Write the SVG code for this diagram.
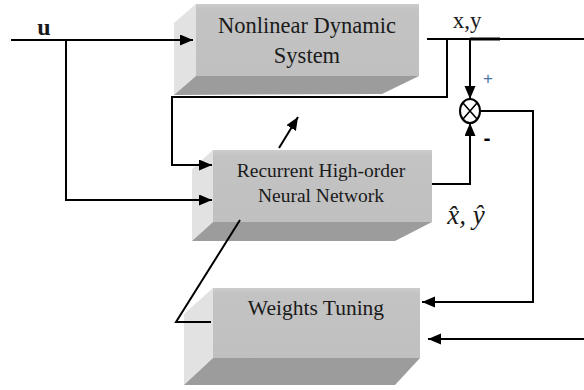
<svg xmlns="http://www.w3.org/2000/svg" width="584" height="390" viewBox="0 0 584 390">
  <style>
    .front { fill: #c3c3c3; }
    .side { fill: #e2e2e2; }
    .bottom { fill: #9c9c9c; }
    .wire { fill: none; stroke: #000; stroke-width: 2; }
    .lbl { font-family: "Liberation Serif", "Times New Roman", serif; fill: #1a1a1a; }
  </style>
  <defs>
    <marker id="arrow" markerUnits="userSpaceOnUse" markerWidth="14" markerHeight="12" refX="13" refY="5.5" orient="auto">
      <path d="M0,0 L13,5.5 L0,11 z" fill="#000"/>
    </marker>
    <linearGradient id="faceShade" x1="0" y1="0" x2="0" y2="1">
      <stop offset="0" stop-color="#cdcdcd"/>
      <stop offset="0.08" stop-color="#c3c3c3"/>
      <stop offset="1" stop-color="#c0c0c0"/>
    </linearGradient>
  </defs>

  <rect width="584" height="390" fill="#fff"/>

  <!-- plant block -->
  <g id="nonlinear-system">
    <polygon class="side" points="196,4 174,23 174,95 196,76"/>
    <polygon class="bottom" points="196,76 419,76 382,94 174,95"/>
    <rect x="196" y="4" width="223" height="72" fill="url(#faceShade)"/>
    <text class="lbl" x="307" y="33" font-size="22.5" text-anchor="middle">Nonlinear Dynamic</text>
    <text class="lbl" x="307" y="63" font-size="22.5" text-anchor="middle">System</text>
  </g>

  <!-- identifier block -->
  <g id="rhonn">
    <polygon class="side" points="213,150 192,169 192,241 213,222"/>
    <polygon class="bottom" points="213,222 432,222 395,241 192,241"/>
    <rect x="213" y="150" width="219" height="72" fill="url(#faceShade)"/>
    <text class="lbl" x="321" y="177" font-size="19.5" text-anchor="middle">Recurrent High-order</text>
    <text class="lbl" x="321" y="202" font-size="19.5" text-anchor="middle">Neural Network</text>
  </g>

  <!-- learning law block -->
  <g id="weights-tuning">
    <polygon class="side" points="213,288 184,314 184,385 213,358"/>
    <polygon class="bottom" points="213,358 420,358 395,385 184,385"/>
    <rect x="213" y="288" width="207" height="70" fill="url(#faceShade)"/>
    <text class="lbl" x="316" y="315" font-size="21.5" text-anchor="middle">Weights Tuning</text>
  </g>

  <!-- summing junction -->
  <g id="sum">
    <ellipse cx="470" cy="111" rx="10" ry="12" fill="#fff" stroke="#000" stroke-width="2"/>
    <path d="M463,103 L477,119 M477,103 L463,119" stroke="#000" stroke-width="1.6"/>
  </g>

  <g id="connectors">
    <!-- input u -->
    <path class="wire" d="M11,40 L193,40" marker-end="url(#arrow)"/>
    <path class="wire" d="M66,40 L66,200 L212,200" marker-end="url(#arrow)"/>
    <!-- plant output x,y -->
    <path class="wire" d="M427,39 L584,39"/>
    <path d="M470,39 L500,39" stroke="#000" stroke-width="3"/>
    <path class="wire" d="M447,39 L447,97 L172,97 L172,165 L212,165" marker-end="url(#arrow)"/>
    <path class="wire" d="M470,39 L470,99" marker-end="url(#arrow)"/>
    <!-- identifier output -->
    <path class="wire" d="M432,184 L470,184 L470,123" marker-end="url(#arrow)"/>
    <!-- error to weights tuning -->
    <path class="wire" d="M480,111 L533,111 L533,302 L422,302" marker-end="url(#arrow)"/>
    <path class="wire" d="M584,339 L428,339" marker-end="url(#arrow)"/>
    <!-- weights to identifier -->
    <path class="wire" d="M240,220 L176,322 L211,322"/>
    <!-- adaptation arrow -->
    <path class="wire" d="M279,148 L298,117" marker-end="url(#arrow)"/>
  </g>

  <!-- signal labels -->
  <text class="lbl" x="44" y="35" font-size="24" font-weight="bold" text-anchor="middle">u</text>
  <text class="lbl" x="467" y="28" font-size="23" text-anchor="middle">x,y</text>
  <text x="488" y="84" font-family="Liberation Sans, Arial, sans-serif" font-size="17" fill="#4a74a8" text-anchor="middle">+</text>
  <text x="487" y="145" font-family="Liberation Sans, Arial, sans-serif" font-size="21" font-weight="bold" fill="#000" text-anchor="middle">-</text>
  <text class="lbl" x="466" y="224" font-size="27" font-style="italic" text-anchor="middle">x̂, ŷ</text>
</svg>
